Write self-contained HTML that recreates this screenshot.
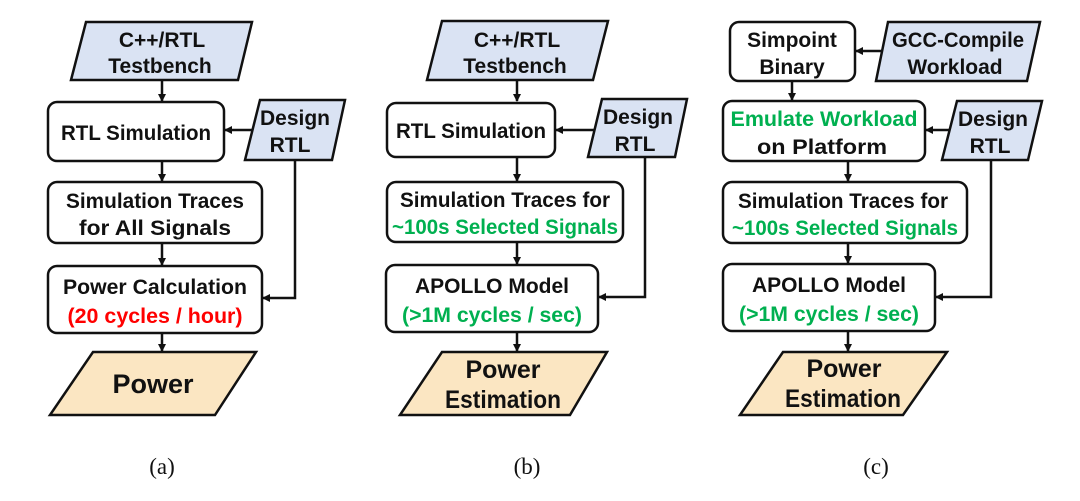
<!DOCTYPE html>
<html><head><meta charset="utf-8"><style>
html,body{margin:0;padding:0;background:#fff;}
svg{display:block}
text{font-family:"Liberation Sans",Arial,sans-serif;font-weight:bold;font-size:21px;fill:#111;text-anchor:middle}
.g{fill:#00b050}.r{fill:#ff0000}
.cap{font-family:"Liberation Serif",serif;font-weight:normal;font-size:23px}
.b{fill:#fff;stroke:#111;stroke-width:2.5}
.p{fill:#dae3f3;stroke:#111;stroke-width:2.5}
.y{fill:#fbe6c2;stroke:#111;stroke-width:2.5}
.l{fill:none;stroke:#111;stroke-width:2.5}
.big{font-size:25px}
</style></head><body>
<svg width="1080" height="501" viewBox="0 0 1080 501" xmlns="http://www.w3.org/2000/svg">
<defs><marker id="a" markerWidth="8" markerHeight="8" refX="7" refY="4" orient="auto" markerUnits="userSpaceOnUse"><path d="M0,0 L8,4 L0,8 z" fill="#111"/></marker></defs>

<!-- (a) -->
<polygon class="p" points="86,22 252,22 238,80 71,80"/>
<text x="162" y="47">C++/RTL</text><text x="160" y="73">Testbench</text>
<line class="l" x1="162" y1="80" x2="162" y2="101" marker-end="url(#a)"/>
<rect class="b" x="48" y="102" width="176" height="59" rx="9"/>
<text x="136" y="140" textLength="150" lengthAdjust="spacingAndGlyphs">RTL Simulation</text>
<polygon class="p" points="260,100 345,100 332,160 245,160"/>
<text x="295" y="125">Design</text><text x="290" y="152">RTL</text>
<line class="l" x1="252" y1="130" x2="225" y2="130" marker-end="url(#a)"/>
<polyline class="l" points="295,160 295,298 263,298" marker-end="url(#a)"/>
<line class="l" x1="162" y1="161" x2="162" y2="181" marker-end="url(#a)"/>
<rect class="b" x="48" y="182" width="214" height="61" rx="9"/>
<text x="155" y="208" textLength="178" lengthAdjust="spacingAndGlyphs">Simulation Traces</text>
<text x="155" y="235" textLength="152" lengthAdjust="spacingAndGlyphs">for All Signals</text>
<line class="l" x1="162" y1="243" x2="162" y2="265" marker-end="url(#a)"/>
<rect class="b" x="48" y="266" width="214" height="67" rx="9"/>
<text x="155" y="294" textLength="184" lengthAdjust="spacingAndGlyphs">Power Calculation</text>
<text x="155" y="323" class="r" textLength="175" lengthAdjust="spacingAndGlyphs">(20 cycles / hour)</text>
<line class="l" x1="162" y1="333" x2="162" y2="351" marker-end="url(#a)"/>
<polygon class="y" points="93,352 256,352 215,415 50,415"/>
<text x="153" y="393" class="big" style="font-size:27px">Power</text>
<text x="162" y="474" class="cap">(a)</text>

<!-- (b) -->
<polygon class="p" points="442,21 608,21 593,80 427,80"/>
<text x="517" y="47">C++/RTL</text><text x="515" y="73">Testbench</text>
<line class="l" x1="517" y1="80" x2="517" y2="101" marker-end="url(#a)"/>
<rect class="b" x="387" y="103" width="168" height="54" rx="9"/>
<text x="471" y="138" textLength="150" lengthAdjust="spacingAndGlyphs">RTL Simulation</text>
<polygon class="p" points="602,99 687,99 675,157 588,157"/>
<text x="638" y="124">Design</text><text x="635" y="151">RTL</text>
<line class="l" x1="594" y1="130" x2="556" y2="130" marker-end="url(#a)"/>
<polyline class="l" points="645,157 645,297 599,297" marker-end="url(#a)"/>
<line class="l" x1="517" y1="157" x2="517" y2="181" marker-end="url(#a)"/>
<rect class="b" x="387" y="182" width="236" height="60" rx="9"/>
<text x="505" y="207" textLength="210" lengthAdjust="spacingAndGlyphs">Simulation Traces for</text>
<text x="505" y="234" class="g" textLength="226" lengthAdjust="spacingAndGlyphs">~100s Selected Signals</text>
<line class="l" x1="517" y1="242" x2="517" y2="264" marker-end="url(#a)"/>
<rect class="b" x="386" y="265" width="212" height="67" rx="9"/>
<text x="492" y="293" textLength="154" lengthAdjust="spacingAndGlyphs">APOLLO Model</text>
<text x="492" y="322" class="g" textLength="180" lengthAdjust="spacingAndGlyphs">(&gt;1M cycles / sec)</text>
<line class="l" x1="517" y1="332" x2="517" y2="351" marker-end="url(#a)"/>
<polygon class="y" points="442,352 607,352 570,415 400,415"/>
<text x="503" y="378" class="big">Power</text>
<text x="503" y="408" class="big" textLength="116" lengthAdjust="spacingAndGlyphs">Estimation</text>
<text x="527" y="474" class="cap">(b)</text>

<!-- (c) -->
<rect class="b" x="730" y="22" width="125" height="59" rx="9"/>
<text x="792" y="47">Simpoint</text><text x="792" y="74">Binary</text>
<polygon class="p" points="888,22 1040,22 1027,81 876,81"/>
<text x="958" y="47" textLength="132" lengthAdjust="spacingAndGlyphs">GCC-Compile</text>
<text x="955" y="74">Workload</text>
<line class="l" x1="882" y1="51" x2="856" y2="51" marker-end="url(#a)"/>
<line class="l" x1="792" y1="81" x2="792" y2="100" marker-end="url(#a)"/>
<rect class="b" x="723" y="101" width="202" height="60" rx="9"/>
<text x="824" y="126" class="g" textLength="187" lengthAdjust="spacingAndGlyphs">Emulate Workload</text>
<text x="822" y="154" textLength="130" lengthAdjust="spacingAndGlyphs">on Platform</text>
<polygon class="p" points="957,101 1042,101 1028,160 942,160"/>
<text x="993" y="126">Design</text><text x="990" y="153">RTL</text>
<line class="l" x1="949" y1="130" x2="926" y2="130" marker-end="url(#a)"/>
<polyline class="l" points="991,160 991,297 936,297" marker-end="url(#a)"/>
<line class="l" x1="848" y1="161" x2="848" y2="181" marker-end="url(#a)"/>
<rect class="b" x="723" y="182" width="244" height="61" rx="9"/>
<text x="843" y="208" textLength="210" lengthAdjust="spacingAndGlyphs">Simulation Traces for</text>
<text x="845" y="235" class="g" textLength="226" lengthAdjust="spacingAndGlyphs">~100s Selected Signals</text>
<line class="l" x1="848" y1="243" x2="848" y2="263" marker-end="url(#a)"/>
<rect class="b" x="723" y="264" width="212" height="67" rx="9"/>
<text x="829" y="292" textLength="154" lengthAdjust="spacingAndGlyphs">APOLLO Model</text>
<text x="829" y="321" class="g" textLength="180" lengthAdjust="spacingAndGlyphs">(&gt;1M cycles / sec)</text>
<line class="l" x1="848" y1="331" x2="848" y2="351" marker-end="url(#a)"/>
<polygon class="y" points="783,352 947,352 903,415 740,415"/>
<text x="844" y="377" class="big">Power</text>
<text x="843" y="407" class="big" textLength="116" lengthAdjust="spacingAndGlyphs">Estimation</text>
<text x="876" y="474" class="cap">(c)</text>
</svg>
</body></html>
